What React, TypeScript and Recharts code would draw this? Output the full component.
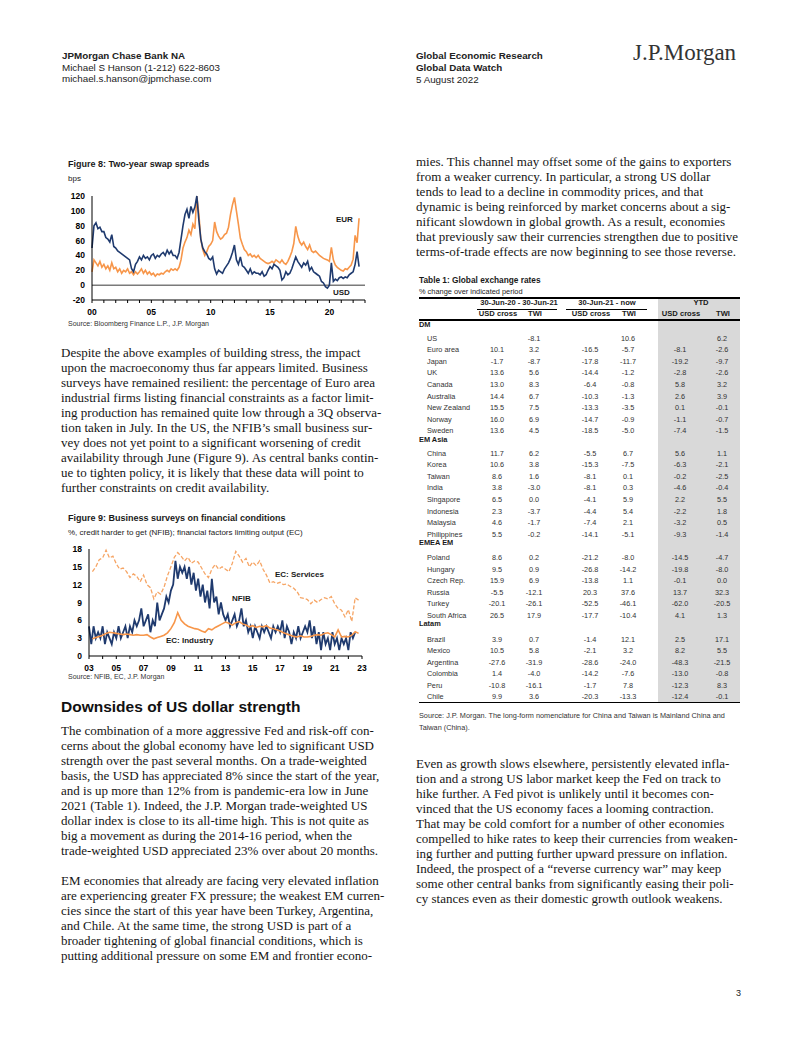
import React from "react";
import { LineChart, Line, XAxis, YAxis, ReferenceLine } from "recharts";

const SANS = "'Liberation Sans', Arial, Helvetica, sans-serif";
const SERIF = "'Liberation Serif', 'Times New Roman', serif";
const NAVY = "#1f3a6e";
const ORANGE = "#f7964a";
const SOFT_ORANGE = "#f6a565";

// Figure 8: two-year swap spreads, bps, bi-monthly readings from Jan 2000
const usdSwap = [
  50, 80, 84, 76, 78, 72, // 2000
  72, 64, 62, 58, 68, 52, // 2001
  50, 46, 44, 42, 40, 38, // 2002
  36, 34, 22, 18, 28, 32, // 2003
  38, 34, 40, 36, 38, 34, // 2004
  40, 42, 36, 40, 38, 42, // 2005
  44, 40, 47, 42, 46, 40, // 2006
  40, 36, 44, 62, 80, 95, // 2007
  102, 90, 106, 98, 105, 120, // 2008
  88, 62, 50, 45, 42, 36, // 2009
  34, 38, 22, 15, 20, 18, // 2010
  16, 22, 26, 30, 36, 44, // 2011
  54, 34, 28, 38, 26, 24, // 2012
  20, 16, 22, 15, 18, 16, // 2013
  16, 14, 18, 12, 14, 20, // 2014
  25, 22, 28, 26, 24, 20, // 2015
  7, 10, 18, 14, 16, 22, // 2016
  30, 38, 32, 28, 24, 30, // 2017
  27, 32, 20, 24, 18, 16, // 2018
  14, 12, 5, 3, -2, -4, // 2019
  0, 30, 5, 8, 6, 10, // 2020
  11, 9, 11, 10, 14, 16, // 2021
  18, 28, 45, 25, // 2022
];
const eurSwap = [
  18, 34, 30, 26, 32, 24, // 2000
  28, 22, 26, 20, 30, 22, // 2001
  24, 18, 22, 16, 20, 18, // 2002
  22, 16, 18, 14, 18, 15, // 2003
  18, 22, 16, 20, 15, 18, // 2004
  14, 16, 12, 15, 14, 16, // 2005
  15, 18, 20, 18, 22, 20, // 2006
  22, 20, 24, 34, 50, 58, // 2007
  64, 74, 68, 82, 76, 120, // 2008
  96, 62, 48, 40, 45, 52, // 2009
  55, 60, 85, 72, 66, 62, // 2010
  64, 68, 70, 78, 95, 108, // 2011
  118, 100, 82, 63, 55, 48, // 2012
  45, 40, 42, 38, 40, 37, // 2013
  40, 36, 34, 32, 30, 29, // 2014
  30, 32, 30, 34, 32, 30, // 2015
  34, 30, 28, 32, 38, 45, // 2016
  56, 79, 66, 58, 54, 58, // 2017
  52, 48, 54, 46, 44, 46, // 2018
  43, 40, 38, 36, 35, 34, // 2019
  32, 51, 34, 27, 24, 22, // 2020
  20, 19, 22, 21, 24, 27, // 2021
  35, 67, 57, 90, // 2022
];
const swapYears = [2000, 2001, 2002, 2003, 2004, 2005, 2006, 2007, 2008, 2009, 2010, 2011, 2012, 2013, 2014, 2015, 2016, 2017, 2018, 2019, 2020, 2021, 2022, 2023];
const swapTicksY = [-20, 0, 20, 40, 60, 80, 100, 120];

// Figure 9: business surveys, %
const nfib = [
  5, 2, 5, 3, 4, 3, // 2003
  5, 2, 4, 3, 2, 4, // 2004
  3, 5, 3, 4, 5, 3, // 2005
  5, 4, 6, 5, 6, 8, // 2006
  5, 6, 7, 4, 6, 5, // 2007
  9, 6, 7, 8, 10, 9, // 2008
  11, 12, 16, 13, 15, 14, // 2009
  15, 13, 15, 12, 14, 11, // 2010
  13, 10, 12, 9, 11, 8, // 2011
  13, 9, 10, 7, 9, 7, // 2012
  6, 7, 5, 6, 7, 5, // 2013
  6, 8, 5, 6, 4, 5, // 2014
  3, 5, 4, 3, 5, 4, // 2015
  5, 4, 3, 5, 4, 5, // 2016
  4, 6, 3, 5, 4, 2, // 2017
  4, 3, 5, 3, 4, 5, // 2018
  4, 6, 3, 5, 2, 4, // 2019
  1, 4, 2, 3, 1, 4, // 2020
  2, 3, 1, 3, 2, 3, // 2021
  1, 4, 3, 4, // 2022
];
// quarterly from 2003Q2
const ecServices = [
  14.2, 15.0, 16.2, // 2003
  16.5, 17.8, 16.5, 16.8, // 2004
  15.5, 14.6, 14.8, 14.2, // 2005
  13.2, 13.8, 13.4, 12.5, // 2006
  13.6, 12.0, 11.5, 9.6, // 2007
  10.8, 10.4, 11.6, 13.5, // 2008
  15.0, 16.6, 17.4, 16.8, // 2009
  16.0, 16.6, 15.6, 16.0, // 2010
  15.8, 14.8, 13.8, 13.2, // 2011
  14.6, 15.4, 14.6, 15.0, // 2012
  14.6, 14.2, 15.6, 17.6, // 2013
  16.8, 15.8, 16.4, 15.0, // 2014
  15.8, 15.2, 16.0, 14.6, // 2015
  13.6, 12.3, 12.5, 12.2, // 2016
  12.4, 12.0, 12.1, 11.7, // 2017
  11.4, 10.8, 9.8, 9.7, // 2018
  9.5, 8.8, 9.4, 9.0, // 2019
  9.5, 9.8, 9.6, 10.0, // 2020
  8.8, 8.0, 7.7, 6.6, // 2021
  7.8, 5.8, 9.8, 9.4, // 2022
];
const ecIndustry = [
  2.9, 3.1, 3.3, // 2003
  3.5, 3.8, 4.0, 3.9, // 2004
  3.8, 3.7, 3.6, 3.7, // 2005
  3.6, 3.5, 3.6, 3.5, // 2006
  3.5, 3.6, 3.2, 2.9, // 2007
  3.1, 3.3, 3.5, 3.9, // 2008
  4.6, 5.6, 7.3, 6.0, // 2009
  5.4, 5.0, 4.8, 4.6, // 2010
  4.5, 4.2, 4.0, 4.6, // 2011
  4.4, 4.8, 5.1, 5.4, // 2012
  5.7, 5.5, 5.2, 5.6, // 2013
  5.8, 5.4, 5.2, 4.9, // 2014
  5.1, 4.8, 5.0, 4.9, // 2015
  5.1, 4.7, 4.6, 4.4, // 2016
  4.2, 3.9, 3.7, 3.5, // 2017
  3.3, 3.2, 3.4, 3.2, // 2018
  3.2, 3.3, 3.5, 3.6, // 2019
  3.5, 3.8, 3.9, 3.6, // 2020
  3.2, 4.4, 3.2, 3.3, // 2021
  3.2, 3.5, 4.1, 3.8, // 2022
];
const surveyYears = [2003, 2004, 2005, 2006, 2007, 2008, 2009, 2010, 2011, 2012, 2013, 2014, 2015, 2016, 2017, 2018, 2019, 2020, 2021, 2022, 2023];
const surveyTicksY = [0, 3, 6, 9, 12, 15, 18];

// Table 1: global exchange rates
const tableGroups = ["DM", "EM Asia", "EMEA EM", "Latam"];
const dmNames = ["US", "Euro area", "Japan", "UK", "Canada", "Australia", "New Zealand", "Norway", "Sweden"];
const dmRates = [
  [null, -8.1, null, 10.6, null, 6.2],
  [10.1, 3.2, -16.5, -5.7, -8.1, -2.6],
  [-1.7, -8.7, -17.8, -11.7, -19.2, -9.7],
  [13.6, 5.6, -14.4, -1.2, -2.8, -2.6],
  [13.0, 8.3, -6.4, -0.8, 5.8, 3.2],
  [14.4, 6.7, -10.3, -1.3, 2.6, 3.9],
  [15.5, 7.5, -13.3, -3.5, 0.1, -0.1],
  [16.0, 6.9, -14.7, -0.9, -1.1, -0.7],
  [13.6, 4.5, -18.5, -5.0, -7.4, -1.5],
];
const asiaNames = ["China", "Korea", "Taiwan", "India", "Singapore", "Indonesia", "Malaysia", "Philippines"];
const asiaRates = [
  [11.7, 6.2, -5.5, 6.7, 5.6, 1.1],
  [10.6, 3.8, -15.3, -7.5, -6.3, -2.1],
  [8.6, 1.6, -8.1, 0.1, -0.2, -2.5],
  [3.8, -3.0, -8.1, 0.3, -4.6, -0.4],
  [6.5, 0.0, -4.1, 5.9, 2.2, 5.5],
  [2.3, -3.7, -4.4, 5.4, -2.2, 1.8],
  [4.6, -1.7, -7.4, 2.1, -3.2, 0.5],
  [5.5, -0.2, -14.1, -5.1, -9.3, -1.4],
];
const emeaNames = ["Poland", "Hungary", "Czech Rep.", "Russia", "Turkey", "South Africa"];
const emeaRates = [
  [8.6, 0.2, -21.2, -8.0, -14.5, -4.7],
  [9.5, 0.9, -26.8, -14.2, -19.8, -8.0],
  [15.9, 6.9, -13.8, 1.1, -0.1, 0.0],
  [-5.5, -12.1, 20.3, 37.6, 13.7, 32.3],
  [-20.1, -26.1, -52.5, -46.1, -62.0, -20.5],
  [26.5, 17.9, -17.7, -10.4, 4.1, 1.3],
];
const latamNames = ["Brazil", "Mexico", "Argentina", "Colombia", "Peru", "Chile"];
const latamRates = [
  [3.9, 0.7, -1.4, 12.1, 2.5, 17.1],
  [10.5, 5.8, -2.1, 3.2, 8.2, 5.5],
  [-27.6, -31.9, -28.6, -24.0, -48.3, -21.5],
  [1.4, -4.0, -14.2, -7.6, -13.0, -0.8],
  [-10.8, -16.1, -1.7, 7.8, -12.3, 8.3],
  [9.9, 3.6, -20.3, -13.3, -12.4, -0.1],
];

const swapData = usdSwap.map((v, i) => ({ t: 2000 + i / 6, usd: v, eur: eurSwap[i] }));
const nfibData = nfib.map((v, i) => ({ t: 2003 + i / 6, v }));
const servicesData = ecServices.map((v, i) => ({ t: 2003.25 + i / 4, v }));
const industryData = ecIndustry.map((v, i) => ({ t: 2003.25 + i / 4, v }));

const Txt = ({ x, y, size, bold = false, font = SANS, color = "#1a1a1a", align = "left", w = 120, children }: any) => {
  const lh = Math.round(size * 1.3);
  const left = align === "center" ? x - w / 2 : x;
  return (
    <div
      style={{
        position: "absolute",
        left,
        top: y - lh / 2,
        width: align === "center" ? w : undefined,
        textAlign: align,
        fontSize: size,
        lineHeight: lh + "px",
        fontWeight: bold ? 700 : 400,
        fontFamily: font,
        color,
        whiteSpace: "nowrap",
      }}
    >
      {children}
    </div>
  );
};

const Para = ({ x, y, lines }: { x: number; y: number; lines: string[] }) => (
  <div
    style={{
      position: "absolute",
      left: x,
      top: y - 7.5,
      fontFamily: SERIF,
      fontSize: 13,
      lineHeight: "15px",
      color: "#161616",
      whiteSpace: "pre",
    }}
  >
    {lines.join("\n")}
  </div>
);

const tickStyle = { fontSize: 8.5, fontWeight: 700, fill: "#000", fontFamily: SANS };

const SwapChart = () => (
  <div style={{ position: "absolute", left: 52, top: 191 }}>
    <LineChart width={318} height={129} data={swapData} margin={{ top: 5, right: 5, bottom: 0, left: 0 }}>
      <XAxis
        type="number"
        dataKey="t"
        domain={[2000, 2023]}
        ticks={swapYears}
        interval={0}
        tickFormatter={(v: number) => (v % 5 === 0 ? String(v).slice(2) : "")}
        height={20}
        tickSize={3}
        tickMargin={6}
        axisLine={{ stroke: "#000" }}
        tickLine={{ stroke: "#000" }}
        tick={tickStyle}
      />
      <YAxis
        type="number"
        domain={[-20, 120]}
        ticks={swapTicksY}
        interval={0}
        width={40}
        tickSize={0}
        tickMargin={7}
        axisLine={{ stroke: "#000" }}
        tickLine={false}
        tick={tickStyle}
      />
      <ReferenceLine y={0} stroke="#7a7a7a" strokeWidth={1.5} />
      <Line dataKey="eur" stroke={ORANGE} strokeWidth={1.6} dot={false} isAnimationActive={false} />
      <Line dataKey="usd" stroke={NAVY} strokeWidth={1.6} dot={false} isAnimationActive={false} />
    </LineChart>
  </div>
);

const SurveyChart = () => (
  <div style={{ position: "absolute", left: 54, top: 544 }}>
    <LineChart width={313} height={132} margin={{ top: 5, right: 5, bottom: 0, left: 0 }}>
      <XAxis
        type="number"
        dataKey="t"
        domain={[2003, 2023]}
        ticks={surveyYears}
        interval={0}
        tickFormatter={(v: number) => (v % 2 === 1 ? String(v).slice(2) : "")}
        height={20}
        tickSize={3}
        tickMargin={6}
        axisLine={{ stroke: "#000", strokeWidth: 1.2 }}
        tickLine={{ stroke: "#000" }}
        tick={tickStyle}
        allowDuplicatedCategory={false}
      />
      <YAxis
        type="number"
        domain={[0, 18]}
        ticks={surveyTicksY}
        interval={0}
        width={35}
        tickSize={0}
        tickMargin={7}
        axisLine={{ stroke: "#000" }}
        tickLine={false}
        tick={tickStyle}
      />
      <Line data={servicesData} dataKey="v" stroke={SOFT_ORANGE} strokeWidth={1.3} strokeDasharray="4 2" dot={false} isAnimationActive={false} />
      <Line data={nfibData} dataKey="v" stroke={NAVY} strokeWidth={1.8} dot={false} isAnimationActive={false} />
      <Line data={industryData} dataKey="v" stroke={ORANGE} strokeWidth={1.6} dot={false} isAnimationActive={false} />
    </LineChart>
  </div>
);

const colX = [497, 534, 590, 628, 680, 722];
const groupLayout = [
  { head: 325, first: 338.3, names: dmNames, rates: dmRates },
  { head: 440, first: 453.3, names: asiaNames, rates: asiaRates },
  { head: 542.7, first: 557.7, names: emeaNames, rates: emeaRates },
  { head: 624, first: 639, names: latamNames, rates: latamRates },
];

const fmt = (v: number | null) => (v === null ? "" : v.toFixed(1));

const RatesTable = () => (
  <>
    <div style={{ position: "absolute", left: 658, top: 298, width: 82, height: 404, background: "#d9d9d9" }} />
    <Txt x={419} y={280} size={8.3} bold>Table 1: Global exchange rates</Txt>
    <Txt x={419} y={291.7} size={7.4}>% change over indicated period</Txt>
    <div style={{ position: "absolute", left: 419, top: 297, width: 321, height: 2, background: "#000" }} />
    <Txt x={519} y={303.3} size={7.6} bold align="center">30-Jun-20  - 30-Jun-21</Txt>
    <Txt x={607} y={303.3} size={7.6} bold align="center">30-Jun-21  - now</Txt>
    <Txt x={701} y={303.3} size={7.6} bold align="center">YTD</Txt>
    <div style={{ position: "absolute", left: 477, top: 308.5, width: 80, height: 1.5, background: "#000" }} />
    <div style={{ position: "absolute", left: 566, top: 308.5, width: 81, height: 1.5, background: "#000" }} />
    {["USD cross", "TWI", "USD cross", "TWI", "USD cross", "TWI"].map((h, i) => (
      <Txt key={i} x={colX[i] + 1} y={314.3} size={7.6} bold align="center" w={60}>{h}</Txt>
    ))}
    <div style={{ position: "absolute", left: 419, top: 319.3, width: 321, height: 1.5, background: "#000" }} />
    {groupLayout.map((g, gi) => (
      <React.Fragment key={gi}>
        <Txt x={419} y={g.head} size={7.4} bold>{tableGroups[gi]}</Txt>
        {g.names.map((n, ri) => (
          <React.Fragment key={n}>
            <Txt x={427} y={g.first + ri * 11.55} size={7.3} color="#333">{n}</Txt>
            {g.rates[ri].map((v, ci) => (
              <Txt key={ci} x={colX[ci]} y={g.first + ri * 11.55} size={7.3} color="#333" align="center" w={50}>{fmt(v)}</Txt>
            ))}
          </React.Fragment>
        ))}
      </React.Fragment>
    ))}
    <div style={{ position: "absolute", left: 419, top: 701.5, width: 321, height: 1, background: "#000" }} />
    <Txt x={419} y={715.5} size={7.3} color="#333">Source: J.P. Morgan. The long-form nomenclature for China and Taiwan is Mainland China and</Txt>
    <Txt x={419} y={727} size={7.3} color="#333">Taiwan (China).</Txt>
  </>
);

export default function App() {
  return (
    <div style={{ position: "absolute", left: 0, top: 0, width: 802, height: 1037, background: "#fff", overflow: "hidden" }}>
      {/* header */}
      <Txt x={62} y={55} size={9.8} bold color="#222">JPMorgan Chase Bank NA</Txt>
      <Txt x={62} y={67} size={9.8} color="#222">Michael S Hanson (1-212) 622-8603</Txt>
      <Txt x={62} y={78.5} size={9.8} color="#222">michael.s.hanson@jpmchase.com</Txt>
      <Txt x={416} y={55} size={9.8} bold color="#222">Global Economic Research</Txt>
      <Txt x={416} y={67} size={9.8} bold color="#222">Global Data Watch</Txt>
      <Txt x={416} y={79} size={9.8} color="#222">5 August 2022</Txt>
      <Txt x={633} y={53} size={23} font={SERIF} color="#333">J.P.Morgan</Txt>

      {/* Figure 8 */}
      <Txt x={68} y={164} size={9} bold>Figure 8: Two-year swap spreads</Txt>
      <Txt x={68} y={178.5} size={8}>bps</Txt>
      <SwapChart />
      <Txt x={336} y={220} size={8} bold>EUR</Txt>
      <Txt x={333} y={292.7} size={8} bold>USD</Txt>
      <Txt x={68} y={323.5} size={7} color="#333">Source: Bloomberg Finance L.P., J.P. Morgan</Txt>

      <Para
        x={61}
        y={352}
        lines={[
          "Despite the above examples of building stress, the impact",
          "upon the macroeconomy thus far appears limited. Business",
          "surveys have remained resilient: the percentage of Euro area",
          "industrial firms listing financial constraints as a factor limit-",
          "ing production has remained quite low through a 3Q observa-",
          "tion taken in July. In the US, the NFIB\u2019s small business sur-",
          "vey does not yet point to a significant worsening of credit",
          "availability through June (Figure 9). As central banks contin-",
          "ue to tighten policy, it is likely that these data will point to",
          "further constraints on credit availability.",
        ]}
      />

      {/* Figure 9 */}
      <Txt x={68} y={517.5} size={9} bold>Figure 9: Business surveys on financial conditions</Txt>
      <Txt x={68} y={533.3} size={8}>%, credit harder to get (NFIB); financial factors limiting output (EC)</Txt>
      <SurveyChart />
      <Txt x={275} y={575} size={8} bold>EC: Services</Txt>
      <Txt x={232} y={599.3} size={8} bold>NFIB</Txt>
      <Txt x={166} y={640.7} size={8} bold>EC: Industry</Txt>
      <Txt x={68} y={676.7} size={7} color="#333">Source: NFIB, EC, J.P. Morgan</Txt>

      <Txt x={61} y={707.3} size={15.5} bold color="#111">Downsides of US dollar strength</Txt>
      <Para
        x={61}
        y={730.7}
        lines={[
          "The combination of a more aggressive Fed and risk-off con-",
          "cerns about the global economy have led to significant USD",
          "strength over the past several months. On a trade-weighted",
          "basis, the USD has appreciated 8% since the start of the year,",
          "and is up more than 12% from is pandemic-era low in June",
          "2021 (Table 1). Indeed, the J.P. Morgan trade-weighted US",
          "dollar index is close to its all-time high. This is not quite as",
          "big a movement as during the 2014-16 period, when the",
          "trade-weighted USD appreciated 23% over about 20 months.",
          "",
          "EM economies that already are facing very elevated inflation",
          "are experiencing greater FX pressure; the weakest EM curren-",
          "cies since the start of this year have been Turkey, Argentina,",
          "and Chile. At the same time, the strong USD is part of a",
          "broader tightening of global financial conditions, which is",
          "putting additional pressure on some EM and frontier econo-",
        ]}
      />

      {/* right column */}
      <Para
        x={416}
        y={161.5}
        lines={[
          "mies. This channel may offset some of the gains to exporters",
          "from a weaker currency. In particular, a strong US dollar",
          "tends to lead to a decline in commodity prices, and that",
          "dynamic is being reinforced by market concerns about a sig-",
          "nificant slowdown in global growth. As a result, economies",
          "that previously saw their currencies strengthen due to positive",
          "terms-of-trade effects are now beginning to see those reverse.",
        ]}
      />
      <RatesTable />
      <Para
        x={416}
        y={763}
        lines={[
          "Even as growth slows elsewhere, persistently elevated infla-",
          "tion and a strong US labor market keep the Fed on track to",
          "hike further. A Fed pivot is unlikely until it becomes con-",
          "vinced that the US economy faces a looming contraction.",
          "That may be cold comfort for a number of other economies",
          "compelled to hike rates to keep their currencies from weaken-",
          "ing further and putting further upward pressure on inflation.",
          "Indeed, the prospect of a \u201creverse currency war\u201d may keep",
          "some other central banks from significantly easing their poli-",
          "cy stances even as their domestic growth outlook weakens.",
        ]}
      />

      <Txt x={736} y={993} size={9} color="#222">3</Txt>
    </div>
  );
}
